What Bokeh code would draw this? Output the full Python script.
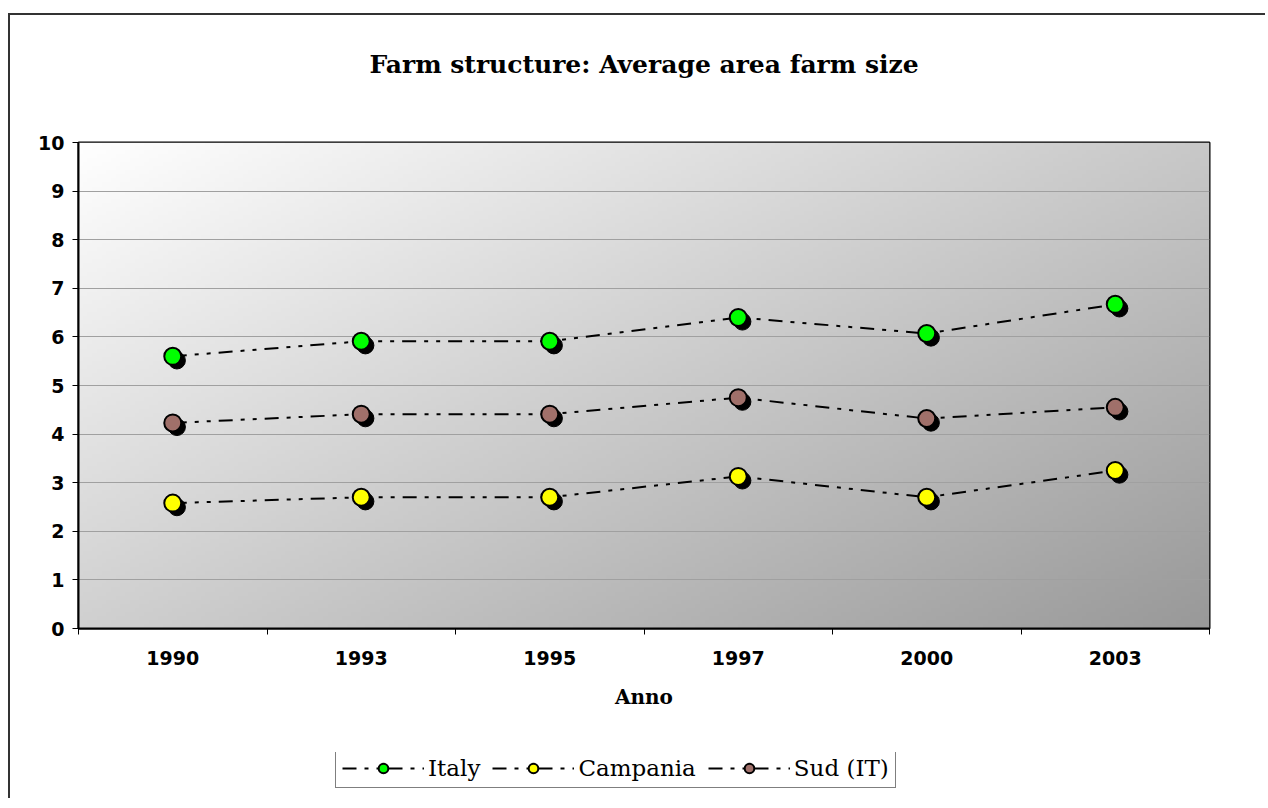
import numpy as np
from bokeh.plotting import figure
from bokeh.layouts import column
from bokeh.models import (Range1d, FixedTicker, ColumnDataSource, Legend, LegendItem, Title)
from bokeh.transform import dodge
from bokeh.embed import file_html
from bokeh.resources import INLINE

years = ["1990", "1993", "1995", "1997", "2000", "2003"]
italy = [5.60, 5.91, 5.91, 6.40, 6.07, 6.67]
campania = [2.58, 2.70, 2.70, 3.13, 2.70, 3.25]
sud = [4.23, 4.41, 4.41, 4.75, 4.32, 4.55]
y_ticks = [0, 1, 2, 3, 4, 5, 6, 7, 8, 9, 10]

names = ["Italy", "Campania", "Sud (IT)"]
colors = ["#00ff00", "#ffff00", "#a0706a"]
series = [italy, campania, sud]

xpos = [i + 0.5 for i in range(len(years))]
DASH = "14 8 4 8 4 8"

p = figure(frame_width=1131, frame_height=486, output_backend="svg", toolbar_location=None,
           x_range=Range1d(0, len(years)), y_range=Range1d(0, 10),
           min_border_left=68, min_border_right=56, min_border_top=127, min_border_bottom=110,
           background_fill_color="white", border_fill_color="white")

# gradient background of plot area
nx, ny = 240, 120
u = np.linspace(0, 1, nx)[None, :]
v = np.linspace(0, 1, ny)[:, None]  # v=0 bottom row
g = 255 - 55 * u - 47 * (1 - v)
g = g.astype(np.uint32)
img = (255 << 24) | (g << 16) | (g << 8) | g
r_img = p.image_rgba(image=[img.astype(np.uint32)], x=0, y=0, dw=len(years), dh=10)
r_img.level = "image"

# spacer panel between frame and title, then the title
p.add_layout(Title(text=" ", text_font_size="10px", standoff=46), "above")
title = Title(text="Farm structure: Average area farm size", align="center",
              text_font="DejaVu Serif", text_font_size="25px", text_font_style="bold",
              text_color="black", standoff=10)
p.add_layout(title, "above")

p.outline_line_color = "black"
p.outline_line_width = 2

# grid
p.xgrid.visible = False
p.ygrid.ticker = FixedTicker(ticks=y_ticks)
p.ygrid.grid_line_color = "#a0a0a0"
p.ygrid.grid_line_width = 1

# axes
p.yaxis.ticker = FixedTicker(ticks=y_ticks)
p.yaxis.major_label_text_font = "DejaVu Sans"
p.yaxis.major_label_text_font_style = "bold"
p.yaxis.major_label_text_font_size = "19px"
p.yaxis.major_label_text_color = "black"
p.yaxis.axis_line_width = 2
p.yaxis.axis_line_color = "black"
p.yaxis.major_tick_out = 6
p.yaxis.major_tick_in = 0
p.yaxis.major_tick_line_color = "black"
p.yaxis.minor_tick_line_color = None
p.yaxis.major_label_standoff = 8

p.xaxis.ticker = FixedTicker(ticks=xpos, minor_ticks=list(range(len(years) + 1)))
p.xaxis.major_label_overrides = {x: y for x, y in zip(xpos, years)}
p.xaxis.major_label_text_font = "DejaVu Sans"
p.xaxis.major_label_text_font_style = "bold"
p.xaxis.major_label_text_font_size = "19px"
p.xaxis.major_label_text_color = "black"
p.xaxis.major_tick_out = 0
p.xaxis.major_tick_in = 0
p.xaxis.minor_tick_out = 6
p.xaxis.minor_tick_in = 0
p.xaxis.minor_tick_line_color = "black"
p.xaxis.axis_line_width = 2
p.xaxis.axis_line_color = "black"
p.xaxis.major_label_standoff = 16
p.xaxis.axis_label = "Anno"
p.xaxis.axis_label_text_font = "DejaVu Serif"
p.xaxis.axis_label_text_font_style = "bold"
p.xaxis.axis_label_text_font_size = "20px"
p.xaxis.axis_label_text_color = "black"
p.xaxis.axis_label_standoff = 17

for vals, col in zip(series, colors):
    src = ColumnDataSource(dict(x=xpos, y=vals))
    p.line("x", "y", source=src, line_color="black", line_width=2, line_dash=DASH)
    p.scatter(x=dodge("x", 0.022, range=p.x_range), y=dodge("y", -0.085, range=p.y_range),
              source=src, size=17, fill_color="black", line_color="black", line_width=1)
    p.scatter("x", "y", source=src, size=17, fill_color=col, line_color="black", line_width=2)

# legend strip below the chart
q = figure(frame_width=1131, frame_height=36, output_backend="svg", toolbar_location=None,
           x_range=Range1d(0, 1), y_range=Range1d(0, 1),
           min_border_left=68, min_border_right=56, min_border_top=14, min_border_bottom=10,
           background_fill_color="white", border_fill_color="white")
q.axis.visible = False
q.grid.visible = False
q.outline_line_color = None
items = []
for name, vals, col in zip(names, series, colors):
    # legend proxies: first points of each series, outside this strip's visible range
    lsrc = ColumnDataSource(dict(x=xpos[:2], y=vals[:2]))
    ln = q.line("x", "y", source=lsrc, line_color="black", line_width=2, line_dash=DASH)
    sc = q.scatter("x", "y", source=lsrc, size=19, fill_color=col, line_color="black", line_width=2)
    items.append(LegendItem(label=name, renderers=[ln, sc], index=0))
legend = Legend(items=items, orientation="horizontal", location=(257, 0),
                label_text_font="DejaVu Serif", label_text_font_size="23px",
                label_text_color="black",
                glyph_width=82, glyph_height=24, spacing=12, padding=6, margin=0,
                border_line_color="black", border_line_width=1,
                background_fill_color="white", background_fill_alpha=1,
                label_standoff=4)
q.add_layout(legend)

layout = column(p, q, spacing=0,
                styles={"margin-left": "8px", "margin-top": "13px",
                        "border-left": "2px solid #333333", "border-top": "2px solid #333333"})

open("out.html", "w").write(file_html(layout, INLINE))
